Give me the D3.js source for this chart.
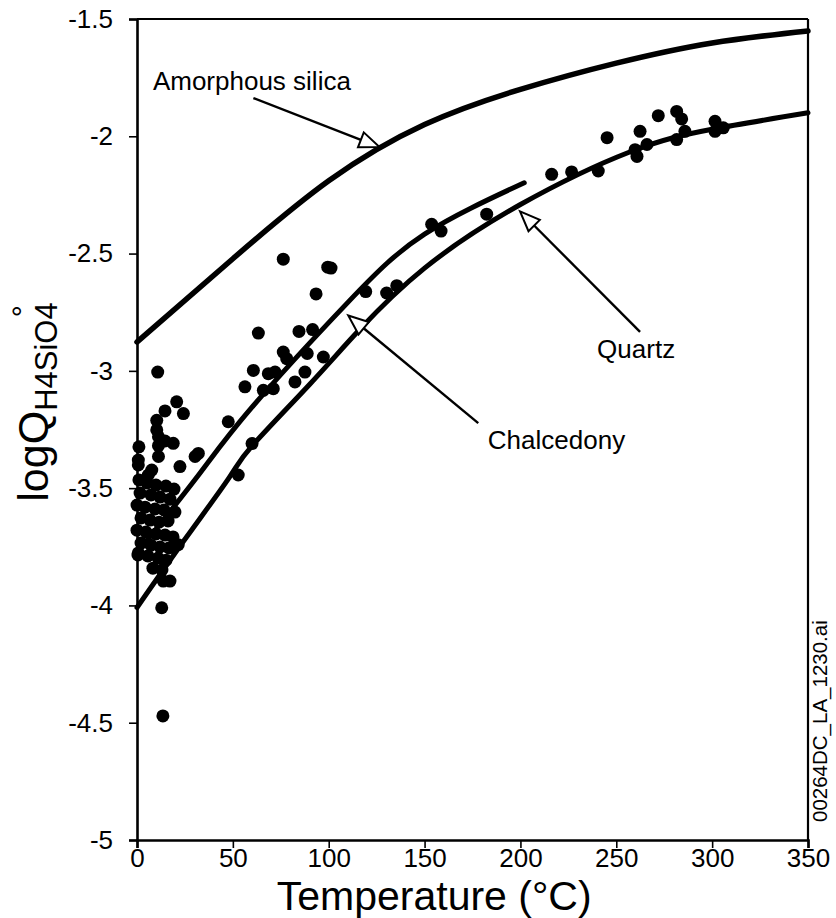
<!DOCTYPE html>
<html>
<head>
<meta charset="utf-8">
<script src="https://cdn.jsdelivr.net/npm/d3@7"></script>
<style>
  body { margin: 0; background: #fff; }
  svg { font-family: "Liberation Sans", Arial, sans-serif; }
</style>
</head>
<body>
<div id="chart"></div>
<script>
// axis ticks
var tempTicks = [0, 50, 100, 150, 200, 250, 300, 350];
var logTicks = [-5, -4.5, -4, -3.5, -3, -2.5, -2, -1.5];

// solubility curves (temperature in C, logQ)
var amorphTemp = [0, 50, 100, 150, 200, 250, 300, 350];
var amorphLogQ = [-2.877, -2.522, -2.19, -1.95, -1.80, -1.688, -1.602, -1.551];

var chalcTemp = [0, 31, 60, 110, 150, 202];
var chalcLogQ = [-3.776, -3.456, -3.155, -2.708, -2.417, -2.198];

var quartzTemp = [0, 25, 48, 60, 90, 116, 150, 200, 257, 300, 350];
var quartzLogQ = [-4.009, -3.718, -3.456, -3.32, -3.058, -2.825, -2.562, -2.291, -2.067, -1.97, -1.9];

// measured waters
var obsTemp = [
  216.3, 226.7, 240.6, 245.2, 259.8, 260.8, 262.4, 266.0, 271.9, 281.5,
  284.1, 285.8, 281.5, 301.5, 301.5, 305.8, 153.7, 182.4, 158.6, 76.3,
  101.2, 99.5, 93.4, 63.3, 84.5, 91.6, 119.3, 130.2, 135.5, 76.3,
  78.1, 88.8, 97.2, 60.7, 68.5, 72.0, 87.6, 56.3, 65.9, 71.1,
  82.4, 10.8, 20.7, 24.2, 14.6, 10.3, 10.3, 11.2, 14.6, 18.9,
  11.2, 1.0, 30.3, 32.0, 47.6, 22.4, 11.2, 0.7, 0.7, 7.7,
  5.9, 52.8, 0.7, 21.5, 13.7, 17.2, 12.9, 13.5, 60.0,
  1.0, 5.2, 9.9, 15.1, 19.3, 1.6, 7.3, 12.0, 17.2, 0,
  4.2, 9.4, 14.1, 19.8, 2.1, 6.8, 11.5, 16.2, 0, 4.7,
  9.9, 14.6, 18.8, 2.1, 7.3, 12.0, 16.7, 0.5, 5.7, 11.0,
  15.1, 8.3, 13.0
];
var obsLogQ = [
  -2.162, -2.152, -2.148, -2.006, -2.057, -2.086, -1.979, -2.035, -1.912, -1.894,
  -1.926, -1.979, -2.014, -1.936, -1.979, -1.964, -2.375, -2.332, -2.404, -2.524,
  -2.562, -2.558, -2.672, -2.839, -2.832, -2.824, -2.662, -2.668, -2.637, -2.92,
  -2.948, -2.926, -2.941, -2.998, -3.012, -3.005, -3.005, -3.068, -3.083, -3.076,
  -3.047, -3.005, -3.132, -3.182, -3.171, -3.211, -3.252, -3.281, -3.299, -3.309,
  -3.319, -3.324, -3.365, -3.352, -3.217, -3.408, -3.365, -3.38, -3.401, -3.423,
  -3.444, -3.444, -3.776, -3.741, -3.896, -3.896, -4.01, -4.471, -3.31,
  -3.465, -3.478, -3.487, -3.491, -3.504, -3.521, -3.529, -3.538, -3.547, -3.572,
  -3.581, -3.589, -3.593, -3.602, -3.627, -3.636, -3.645, -3.64, -3.679, -3.687,
  -3.695, -3.7, -3.708, -3.734, -3.743, -3.751, -3.755, -3.785, -3.789, -3.798,
  -3.807, -3.841, -3.849
];

// labels with their arrows: [textT, textQ, fromT, fromQ, tipT, tipQ]
var labelNames = ["Amorphous silica", "Chalcedony", "Quartz"];
var labelPos = [
  [8.3, -1.766, 60.7, -1.837, 126.5, -2.046],
  [183, -3.296, 178, -3.223, 110.2, -2.764],
  [240, -2.906, 262.4, -2.834, 199.8, -2.32]
];

var margin = { top: 19, right: 28, bottom: 78, left: 137 },
  width = 836 - margin.left - margin.right,
  height = 918 - margin.top - margin.bottom;

var svg = d3
  .select("#chart")
  .append("svg")
  .attr("width", 836)
  .attr("height", 918);

var g = svg
  .append("g")
  .attr("transform", "translate(" + margin.left + "," + margin.top + ")");

var x = d3.scaleLinear().domain([0, 350]).range([0, width]);
var y = d3.scaleLinear().domain([-5, -1.5]).range([height, 0]);

// frame top and right
g.append("line")
  .attr("x1", 0).attr("x2", width).attr("y1", 0).attr("y2", 0)
  .attr("stroke", "#000").attr("stroke-width", 2.2);
g.append("line")
  .attr("x1", width).attr("x2", width).attr("y1", 0).attr("y2", height)
  .attr("stroke", "#000").attr("stroke-width", 2.2);

// axes
var xAxis = g
  .append("g")
  .attr("transform", "translate(0," + height + ")")
  .call(d3.axisBottom(x).tickValues(tempTicks).tickSize(8).tickPadding(1)
    .tickFormat(function (d) { return String(d); }));

var yAxis = g
  .append("g")
  .call(d3.axisLeft(y).tickValues(logTicks).tickSize(8).tickPadding(16)
    .tickFormat(function (d) { return String(d); }));

[xAxis, yAxis].forEach(function (a) {
  a.select(".domain").attr("stroke-width", 2.6);
  a.selectAll(".tick line").attr("stroke-width", 1.6);
  a.selectAll(".tick text")
    .attr("font-size", 26)
    .attr("font-family", "Liberation Sans, Arial, sans-serif")
    .attr("fill", "#000");
});

// curves
var curveLine = d3
  .line()
  .x(function (d) { return x(d[0]); })
  .y(function (d) { return y(d[1]); })
  .curve(d3.curveNatural);

function addCurve(ts, qs, w) {
  g.append("path")
    .datum(d3.zip(ts, qs))
    .attr("d", curveLine)
    .attr("fill", "none")
    .attr("stroke", "#000")
    .attr("stroke-width", w)
    .attr("stroke-linecap", "round");
}
addCurve(amorphTemp, amorphLogQ, 5.5);
addCurve(chalcTemp, chalcLogQ, 5);
addCurve(quartzTemp, quartzLogQ, 5);

// points
g.append("g")
  .selectAll("circle")
  .data(d3.zip(obsTemp, obsLogQ))
  .join("circle")
  .attr("cx", function (d) { return x(d[0]); })
  .attr("cy", function (d) { return y(d[1]); })
  .attr("r", 6.5)
  .attr("fill", "#000");

// labels and arrows
labelPos.forEach(function (p, i) {
  var x0 = x(p[2]), y0 = y(p[3]), x1 = x(p[4]), y1 = y(p[5]);
  var ang = Math.atan2(y1 - y0, x1 - x0);
  var len = 20, half = 8;
  var bx = x1 - len * Math.cos(ang), by = y1 - len * Math.sin(ang);
  g.append("line")
    .attr("x1", x0).attr("y1", y0).attr("x2", bx).attr("y2", by)
    .attr("stroke", "#000").attr("stroke-width", 2.4);
  var px = -Math.sin(ang) * half, py = Math.cos(ang) * half;
  g.append("path")
    .attr("d", "M" + x1 + "," + y1 + "L" + (bx + px) + "," + (by + py) +
      "L" + (bx - px) + "," + (by - py) + "Z")
    .attr("fill", "#fff")
    .attr("stroke", "#000")
    .attr("stroke-width", 2);
  g.append("text")
    .attr("x", x(p[0]))
    .attr("y", y(p[1]))
    .attr("dy", "0.35em")
    .attr("font-size", 26)
    .text(labelNames[i]);
});

// axis titles
svg.append("text")
  .attr("x", margin.left + x(155))
  .attr("y", 910)
  .attr("text-anchor", "middle")
  .attr("font-size", 41)
  .text("Temperature (°C)");

var yl = svg.append("text")
  .attr("transform", "translate(48,402) rotate(-90)")
  .attr("text-anchor", "middle")
  .attr("font-size", 43);
yl.append("tspan").text("logQ");
yl.append("tspan").attr("font-size", 31).attr("dy", 9).text("H4SiO4");
yl.append("tspan").attr("font-size", 30).attr("dx", -15).attr("dy", -24).text("°");

// file tag on the right
svg.append("text")
  .attr("transform", "translate(827,822) rotate(-90)")
  .attr("font-size", 20.5)
  .text("00264DC_LA_1230.ai");
</script>
</body>
</html>
